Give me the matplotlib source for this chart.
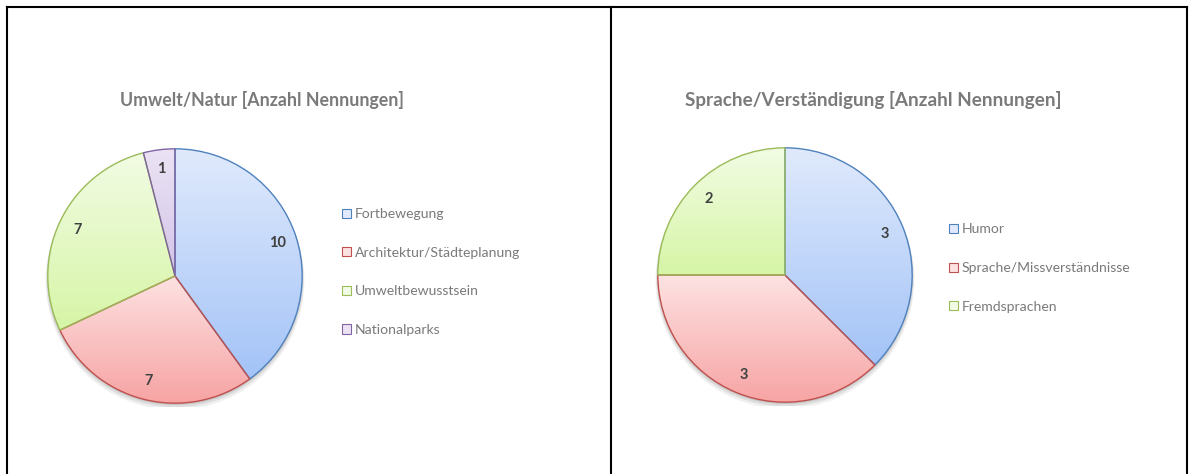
import numpy as np
import matplotlib
matplotlib.use("Agg")
import matplotlib.pyplot as plt
from matplotlib.patches import Patch
from matplotlib.colors import to_rgb
from matplotlib.lines import Line2D

# --- DATA
titles = ["Umwelt/Natur [Anzahl Nennungen]",
          "Sprache/Verständigung [Anzahl Nennungen]"]
labels_left = ["Fortbewegung", "Architektur/Städteplanung", "Umweltbewusstsein", "Nationalparks"]
values_left = [10, 7, 7, 1]
labels_right = ["Humor", "Sprache/Missverständnisse", "Fremdsprachen"]
values_right = [3, 3, 2]

# gradient colours (top, bottom) and edge colours per series
tops = ["#e0eafc", "#fde2e2", "#f2fce4", "#ebe3f4"]
bottoms = ["#a3c3f7", "#f7a3a3", "#d6f5a6", "#d3c4e8"]
edges = ["#4f81bd", "#c0504d", "#9bbb59", "#8064a2"]

W, H = 1195, 474
plt.rcParams['font.family'] = ['Lato', 'DejaVu Sans']
fig = plt.figure(figsize=(W / 100, H / 100), dpi=100)


def px_axes(x0, y0, x1, y1):
    # axes from pixel box (top-left origin)
    return fig.add_axes([x0 / W, 1 - y1 / H, (x1 - x0) / W, (y1 - y0) / H])


def gradient_pie(ax, values):
    wedges, _, autotexts = ax.pie(values, startangle=90, counterclock=False, radius=1,
                                  autopct=lambda p: "%d" % round(p * sum(values) / 100),
                                  pctdistance=0.85,
                                  wedgeprops=dict(facecolor="none", edgecolor="none"),
                                  textprops=dict(fontsize=10.5, fontweight="bold", color="#404040"))
    # soft shadow
    for k, a in zip([0.035, 0.022, 0.01], [0.06, 0.08, 0.1]):
        ax.add_patch(plt.Circle((0, -k), 1.0 + k / 2, color="k", alpha=a, lw=0, zorder=0))
    ax.add_patch(plt.Circle((0, 0), 1.0, color="white", lw=0, zorder=0.5))
    for i, w in enumerate(wedges):
        # gradient spans the wedge's own vertical extent
        pts = w.get_patch_transform().transform(w.get_path().vertices)
        y0, y1 = pts[:, 1].min(), pts[:, 1].max()
        t = np.array(to_rgb(tops[i]))
        b = np.array(to_rgb(bottoms[i]))
        f = np.linspace(0, 1, 256)[:, None]
        grad = (t[None, :] * (1 - f) + b[None, :] * f)[:, None, :]
        im = ax.imshow(grad, extent=[-1.05, 1.05, y0, y1], origin="upper", aspect="auto", zorder=1)
        im.set_clip_path(w)
        w.set_edgecolor(edges[i])
        w.set_linewidth(1.0)
        w.set_zorder(2)
    for t in autotexts:
        t.set_zorder(3)
    ax.set_xlim(-1.03, 1.03)
    ax.set_ylim(-1.03, 1.03)
    ax.axis("off")
    return wedges


def legend(ax, labels, x, y):
    handles = [Patch(facecolor=tops[i], edgecolor=edges[i], linewidth=0.8) for i in range(len(labels))]
    ax.legend(handles, labels, loc="center left", bbox_to_anchor=(x / W, 1 - y / H),
              bbox_transform=fig.transFigure, frameon=False, fontsize=10.1,
              labelcolor="#7a7a7a", handlelength=0.62, handleheight=0.62,
              handletextpad=0.3, labelspacing=1.9, borderpad=0, borderaxespad=0)


# left chart
ax1 = px_axes(44, 145, 306, 407)
gradient_pie(ax1, values_left)
legend(ax1, labels_left, 342, 272)
fig.text(262 / W, 1 - 100 / H, titles[0], ha="center", va="center",
         fontsize=12.8, fontweight="bold", color="#7a7a7a")

# right chart
ax2 = px_axes(654, 144, 916, 406)
gradient_pie(ax2, values_right)
legend(ax2, labels_right, 949, 268)
fig.text(873 / W, 1 - 100 / H, titles[1], ha="center", va="center",
         fontsize=13.6, fontweight="bold", color="#7a7a7a")

# table borders
for xs, ys in [([7, 7], [7, H]), ([611, 611], [7, H]), ([1187, 1187], [7, H]), ([7, 1187], [7, 7])]:
    fig.add_artist(Line2D([x / W for x in xs], [1 - y / H for y in ys], color="black", lw=1.5))

fig.savefig("out.png", dpi=100)
